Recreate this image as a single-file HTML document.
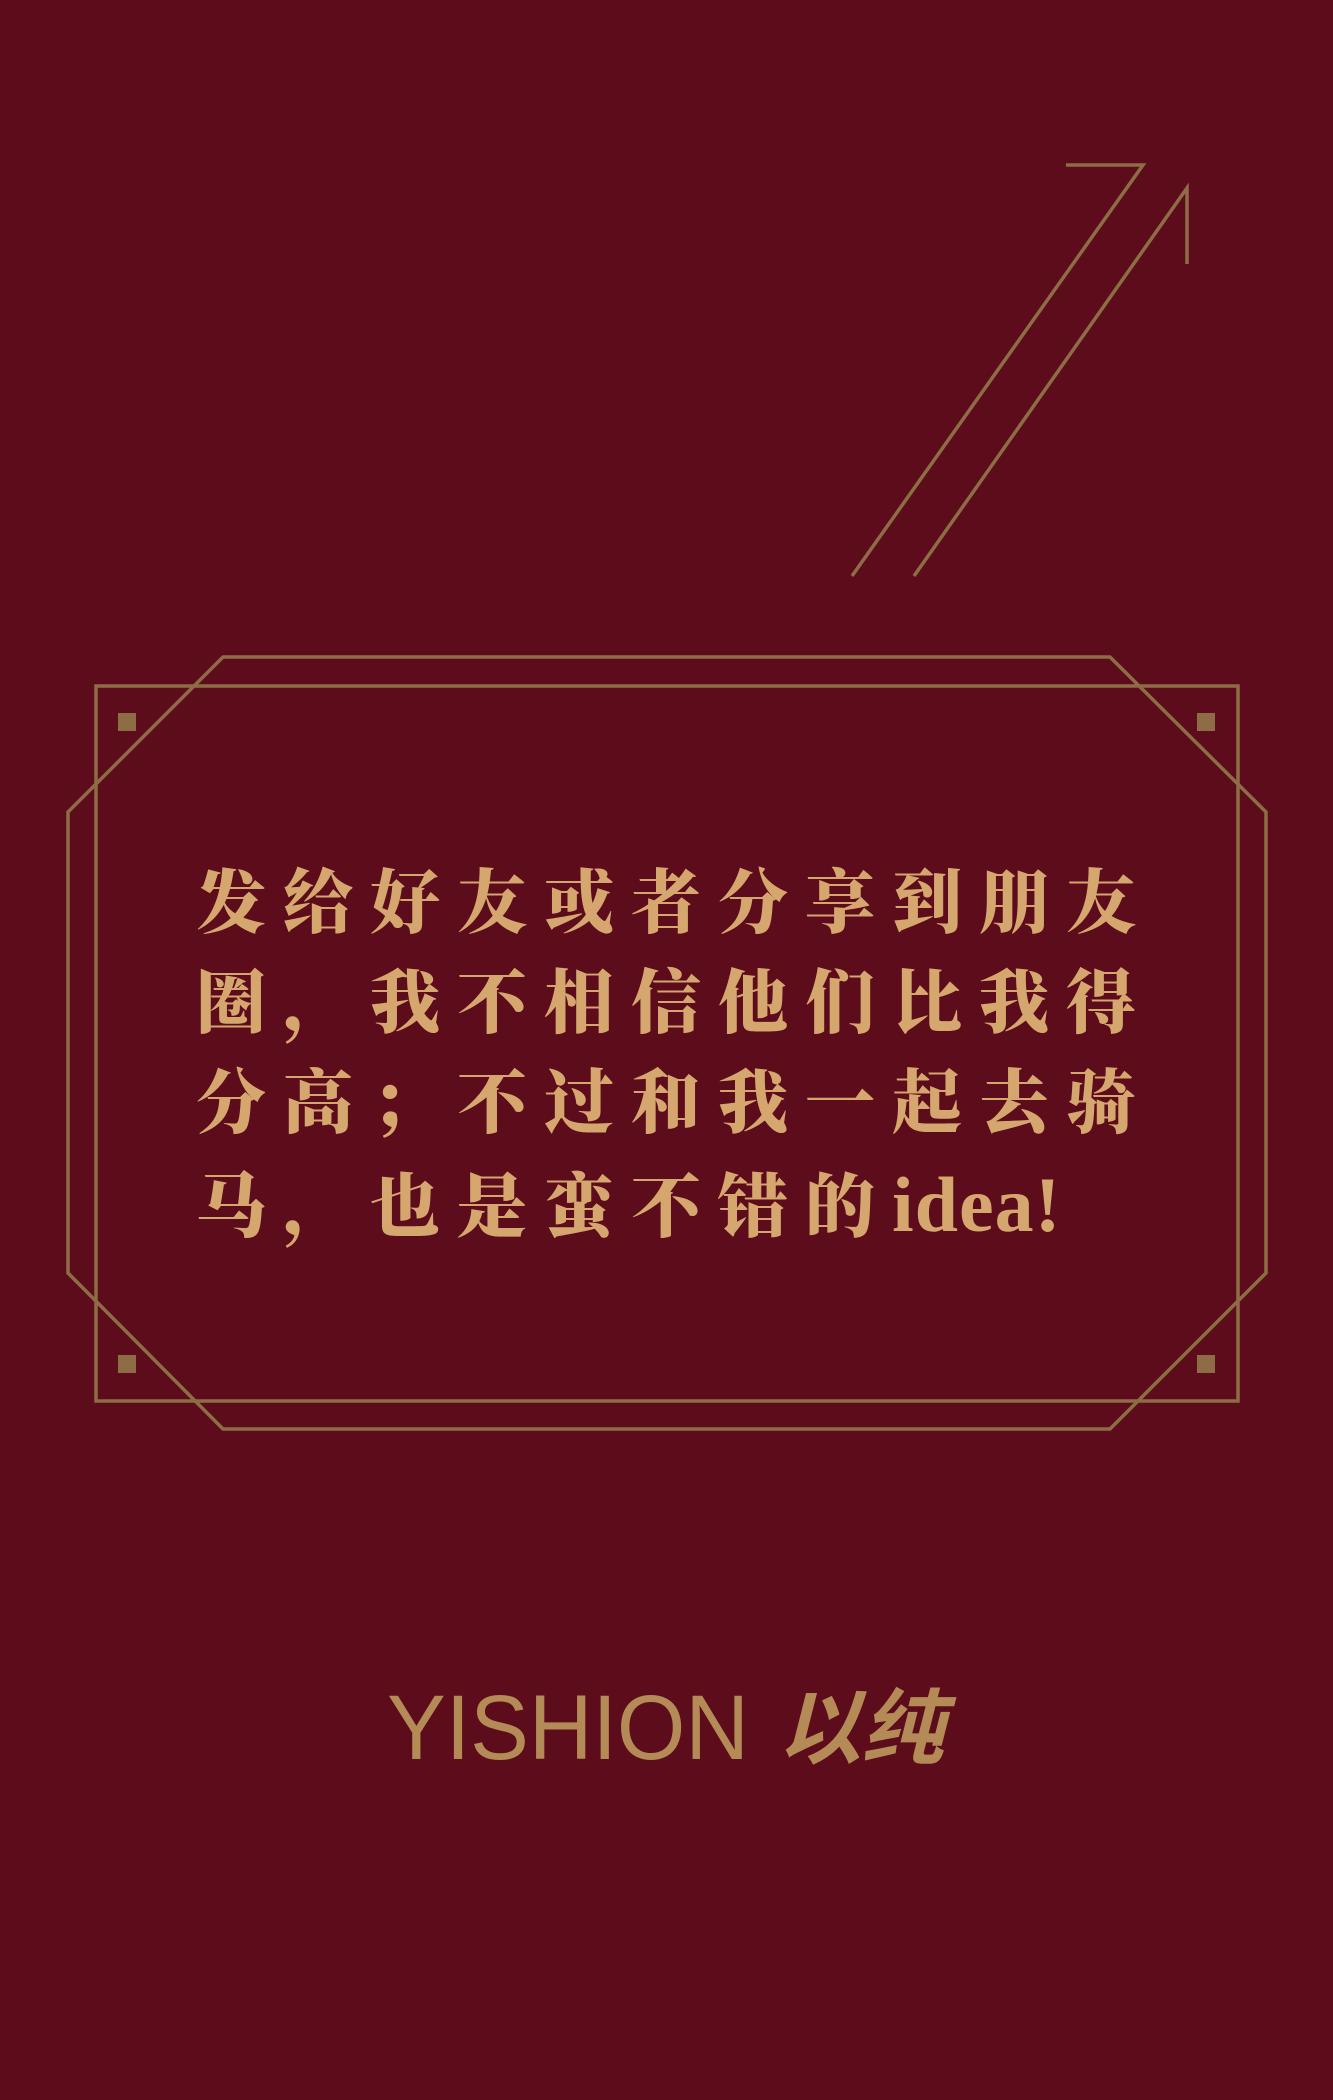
<!DOCTYPE html>
<html><head><meta charset="utf-8">
<style>
html,body{margin:0;padding:0;background:#5c0c1b;}
#page{position:relative;width:1333px;height:2100px;background:#5c0c1b;overflow:hidden;}
svg{position:absolute;left:0;top:0;}
.line{position:absolute;left:196px;font-family:"Liberation Serif","Noto Serif CJK SC",serif;font-weight:900;font-size:70px;letter-spacing:17px;color:#d5a66e;line-height:70px;white-space:nowrap;}
.latin{letter-spacing:1px;font-size:78px;font-family:"Liberation Serif",serif;font-weight:bold;}
</style></head>
<body>
<div id="page">
<svg width="1333" height="2100">
  <g fill="none" stroke="#8e6c46" stroke-width="3.5">
    <polyline points="852,576 1143,165 1066,165"/>
    <polyline points="914,576 1187,188 1187,264"/>
    <polygon points="223,657 1110,657 1266,812 1266,1273 1110,1429 223,1429 68,1273 68,812"/>
    <rect x="96" y="686" width="1142" height="715"/>
  </g>
  <g fill="#8e6c46">
    <rect x="118" y="713" width="18" height="18"/>
    <rect x="1197" y="713" width="18" height="18"/>
    <rect x="118" y="1355" width="18" height="18"/>
    <rect x="1197" y="1355" width="18" height="18"/>
  </g>
  <text x="387" y="1759" font-family="Liberation Sans, sans-serif" font-size="92" fill="#b48a57" textLength="362" lengthAdjust="spacingAndGlyphs">YISHION</text>
  <text x="778" y="1757" font-family="Liberation Sans, Noto Sans CJK SC, sans-serif" font-weight="bold" font-style="italic" font-size="82" fill="#b48a57" textLength="166" lengthAdjust="spacingAndGlyphs">以纯</text>
</svg>
<div class="line" style="top:870px">发给好友或者分享到朋友</div>
<div class="line" style="top:970px">圈，我不相信他们比我得</div>
<div class="line" style="top:1070px">分高；不过和我一起去骑</div>
<div class="line" style="top:1170px">马，也是蛮不错的<span class="latin">idea!</span></div>
</div>
</body></html>
